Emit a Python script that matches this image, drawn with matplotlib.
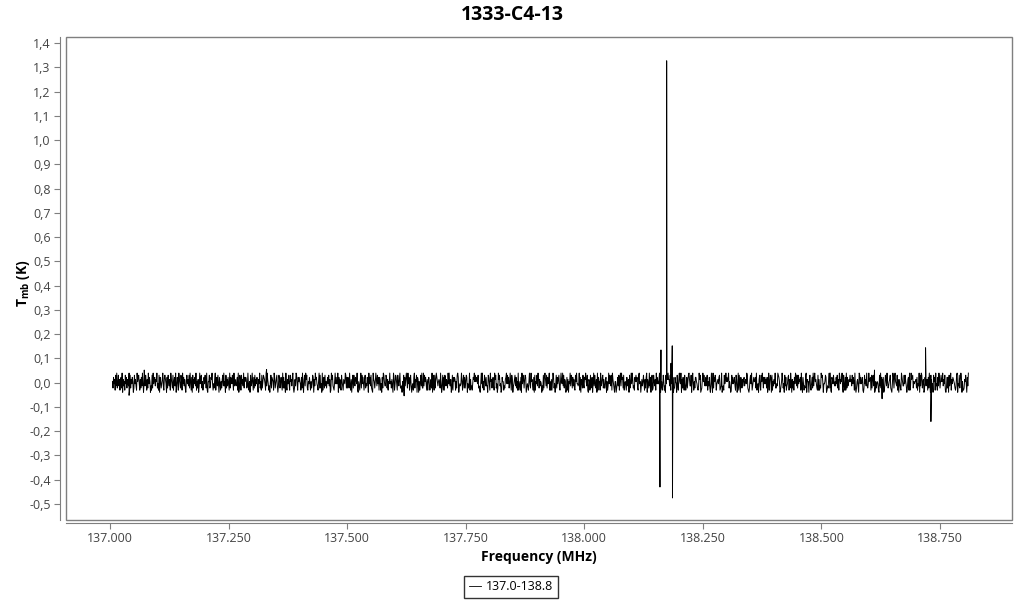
import numpy as np
import matplotlib
matplotlib.use("Agg")
import matplotlib.pyplot as plt
from matplotlib.patches import Rectangle
from matplotlib.ticker import FixedLocator, FuncFormatter

plt.rcParams['font.family'] = ['Open Sans', 'DejaVu Sans']
plt.rcParams['mathtext.fontset'] = 'custom'
plt.rcParams['mathtext.rm'] = 'Open Sans'
plt.rcParams['mathtext.bf'] = 'Open Sans:bold'

title = "1333-C4-13"
series_label = "137.0-138.8"
x_label = "Frequency (MHz)"
y_label = r"$\mathbf{T_{mb}}$ (K)"

freq_start = 137.005
freq_end = 138.81

# baseline noise, one code per channel: level 0..9 (step in mK, centred on 0)
noise_step_mk = 8.8
noise_codes = [
    "52746183924836157290635184726539182647502846319578416273950473851629475031829467",
    "36592418075246931786407285361964281573903751964285194736205846382951708264739152",
    "60394782513748629105582376941426915738407415268393508263741927648519364357190286",
    "18463927576239415083495172836473064925182587641939641305827651972468303862574192",
    "72509316484185637920263984175754172930683968215474152487063967431592824091672835",
    "25748360196832159474490726318531654982727429316058285376491053169284741682437509",
    "47382109652596384717614072985338726154945263097148741853692230518473696294715830",
    "34179265807605148392293857416157413629084182697535652930481718736529494360281757",
    "61528970343496158272587042391623147695857648231049492518637330874195625731968240",
    "29683401755132679484724951860346837251913517094862687024315942956317081548397263",
    "54031827963827469151615972403827468315954938265017160549387273621859443491706528",
    "42769538106518237049384260917551934782622670513948738196420550247381693967281453",
    "17356082494962317585721894503635841627906429370581285361947446970251385130847696",
    "63814957022754083169549062731841372589633806941527754213968012695843736815372049",
    "30927586145647812390231846957569253018474573186029184075263673564982102684913575",
    "57291340683185962747462703915870815364922439875013596240837134781629506251749838",
    "28465719307413289065506831472937956421816132978504458701326929107648535374826197",
    "46592083171927346585638475192025630984745710284639324956718278360152454108392761",
    "70148639523568210497279543816064219753384853026719139678254556271439083982560174",
    "35617294086240857193417396258559364810272708359164765421389043826970511265840739",
]

# narrow lines and stray noise peaks (MHz, K)
spike_freqs = [137.040, 137.072, 137.330, 137.620, 138.1596, 138.1617, 138.1737,
               138.1828, 138.1855, 138.1860, 138.612, 138.628, 138.7197, 138.7310]
spike_vals = [-0.052, 0.052, 0.054, -0.054, -0.43, 0.135, 1.327,
              0.08, 0.152, -0.475, 0.052, -0.066, 0.144, -0.16]

y_ticks = [-0.5, -0.4, -0.3, -0.2, -0.1, 0.0, 0.1, 0.2, 0.3, 0.4, 0.5,
           0.6, 0.7, 0.8, 0.9, 1.0, 1.1, 1.2, 1.3, 1.4]
x_ticks = [137.0, 137.25, 137.5, 137.75, 138.0, 138.25, 138.5, 138.75]

codes = np.array([int(c) for row in noise_codes for c in row], dtype=float)
base_v = (codes - 4.5) * noise_step_mk / 1000.0
base_f = np.linspace(freq_start, freq_end, len(base_v))
freq = np.concatenate([base_f, np.array(spike_freqs)])
tmb = np.concatenate([base_v, np.array(spike_vals)])
order = np.argsort(freq, kind="stable")
freq = freq[order]
tmb = tmb[order]

fig = plt.figure(figsize=(10.24, 6.0), dpi=100)
ax = fig.add_axes([66/1024, 1 - 520/600, (1012 - 66)/1024, (520 - 37)/600])

ax.plot(freq, tmb, color="black", linewidth=0.7, label=series_label)

ax.set_xlim(136.907, 138.902)
ax.set_ylim(-0.566, 1.425)

grey = "#7f7f7f"
for s in ("top", "right"):
    ax.spines[s].set_visible(False)
ax.spines["left"].set_position(("outward", 4))
ax.spines["bottom"].set_position(("outward", 2))
ax.spines["left"].set_color(grey)
ax.spines["bottom"].set_color(grey)
ax.add_patch(Rectangle((0, 0), 1, 1, transform=ax.transAxes, fill=False,
                       edgecolor=grey, linewidth=1.0, clip_on=False, zorder=5))

ax.yaxis.set_major_locator(FixedLocator(y_ticks))
ax.xaxis.set_major_locator(FixedLocator(x_ticks))
ax.yaxis.set_major_formatter(FuncFormatter(lambda v, p: f"{v:.1f}".replace(".", ",").replace("-0,0", "0,0")))
ax.xaxis.set_major_formatter(FuncFormatter(lambda v, p: f"{v:.3f}"))
ax.tick_params(axis="both", direction="out", length=4, color=grey,
               labelsize=9, labelcolor="#444444", pad=3)

fig.text(0.5, 1 - 15/600, title, fontsize=14, fontweight="bold", ha="center", va="center")
ax.set_xlabel(x_label, fontsize=10, fontweight="bold", labelpad=3)
ax.set_ylabel(y_label, fontsize=10, fontweight="bold")
ax.yaxis.set_label_coords(-0.036, 0.49)

leg = fig.legend(loc="center", bbox_to_anchor=(511/1024, 1 - 587/600), fontsize=9,
                 frameon=True, fancybox=False, handlelength=1.0, handletextpad=0.4,
                 borderpad=0.35, borderaxespad=0)
leg.get_frame().set_edgecolor("black")
leg.get_frame().set_linewidth(1.0)
for h in leg.get_lines():
    h.set_linewidth(0.6)

fig.savefig("out.png", dpi=100)
